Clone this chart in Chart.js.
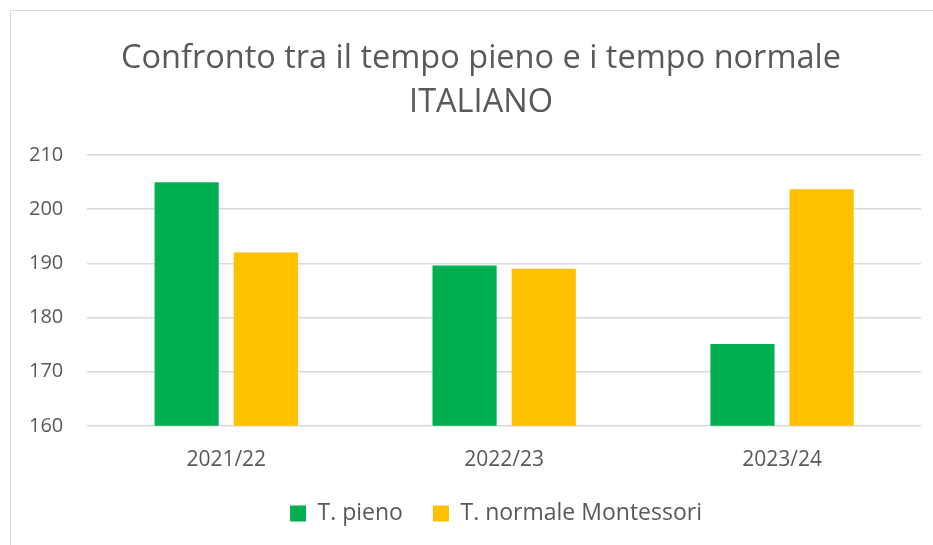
<!DOCTYPE html>
<html>
<head>
<meta charset="utf-8">
<script src="https://cdn.jsdelivr.net/npm/chart.js@4.4.1/dist/chart.umd.min.js"></script>
<style>
  html, body { margin: 0; padding: 0; background: #fff; }
  #wrap { position: absolute; left: 0; top: 0; width: 933px; height: 545px; }
  #frame { position: absolute; left: 10px; top: 10px; width: 940px; height: 560px; border: 1px solid #d9d9d9; pointer-events: none; }
</style>
</head>
<body>
<div id="wrap"><canvas id="chart"></canvas></div>
<div id="frame"></div>
<script>
const categories = ['2021/22', '2022/23', '2023/24'];
const tempoPieno = [205.0, 189.6, 175.1];
const tempoNormale = [192.0, 189.0, 203.7];
const seriesNames = ['T. pieno', 'T. normale Montessori'];
const titleLines = ['Confronto tra il tempo pieno e i tempo normale', 'ITALIANO'];

// title and legend sit a bit right of the plot's centre in the original
const shiftBlocks = {
  id: 'shiftBlocks',
  afterLayout(chart) {
    chart.titleBlock.left += 36;
    chart.legend.left += 66;
  },
};

const ctx = document.getElementById('chart').getContext('2d');
new Chart(ctx, {
  type: 'bar',
  data: {
    labels: categories,
    datasets: [
      {
        label: seriesNames[0],
        data: tempoPieno,
        backgroundColor: '#00b050',
        categoryPercentage: 0.57,
        barPercentage: 0.81,
      },
      {
        label: seriesNames[1],
        data: tempoNormale,
        backgroundColor: '#ffc000',
        categoryPercentage: 0.57,
        barPercentage: 0.81,
      },
    ],
  },
  options: {
    responsive: true,
    maintainAspectRatio: false,
    animation: false,
    layout: { padding: { left: 5, right: 12, top: 37, bottom: 10 } },
    plugins: {
      title: {
        display: true,
        text: titleLines,
        color: '#595959',
        font: { family: 'Open Sans', size: 32.5, weight: 'normal', lineHeight: 1.34 },
        padding: { top: 0, bottom: 31 },
      },
      legend: {
        position: 'bottom',
        labels: {
          color: '#595959',
          font: { family: 'Open Sans', size: 23 },
          boxWidth: 16,
          boxHeight: 16,
          padding: 30,
        },
      },
      tooltip: { enabled: false },
    },
    scales: {
      x: {
        grid: { display: false },
        border: { display: false },
        ticks: { color: '#595959', font: { family: 'Open Sans', size: 21 }, padding: 14 },
        // pull the plot area closer to the legend, like the original
        afterFit: (scale) => { scale.height -= 15; },
      },
      y: {
        min: 160,
        max: 210,
        ticks: { stepSize: 10, color: '#595959', font: { family: 'Open Sans', size: 20 }, padding: 24 },
        grid: { color: '#d9d9d9', lineWidth: 1.5, drawTicks: false },
        border: { display: false },
      },
    },
  },
  plugins: [shiftBlocks],
});
</script>
</body>
</html>
